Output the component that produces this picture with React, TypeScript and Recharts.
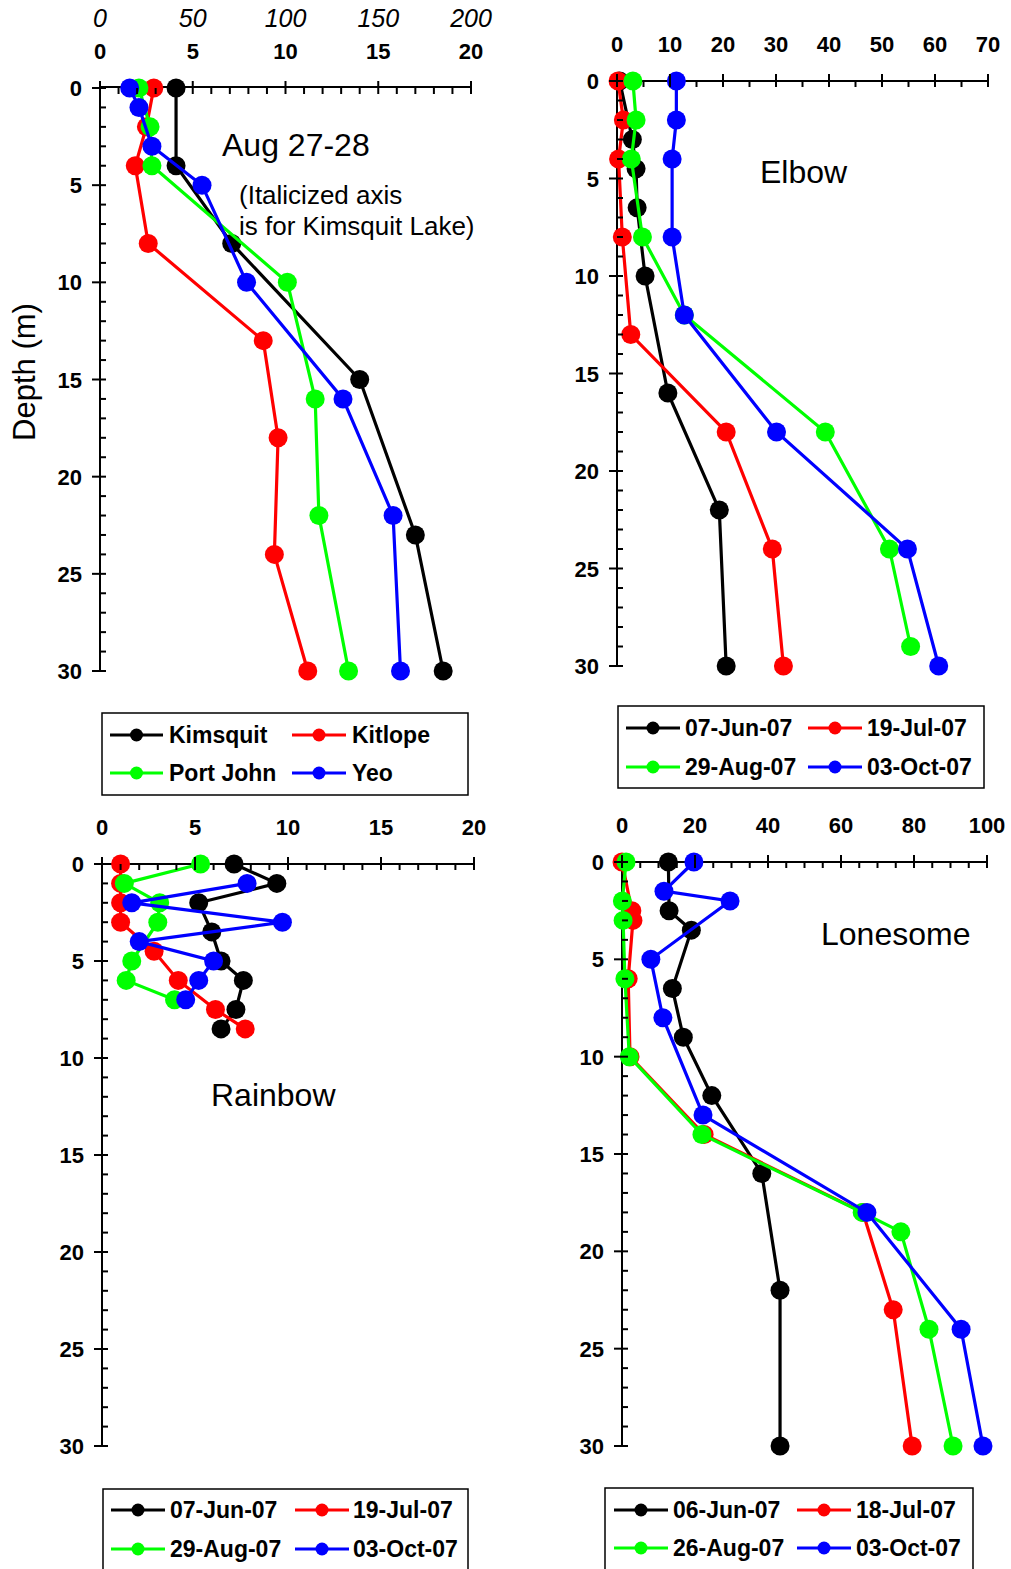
// Four lake depth profiles (Aug 27-28, Elbow, Rainbow, Lonesome). Depth runs
// down the y axis, the measured value along a top x axis. The first panel
// carries a second, italic x axis (0-200) used only by Kimsquit.

import { ScatterChart, Scatter, XAxis, YAxis } from "recharts";

const BLACK = "#000000";
const RED = "#ff0000";
const GREEN = "#00ff00";
const BLUE = "#0000ff";
const FONT = "'Liberation Sans', Arial, sans-serif";

// ---- tick labels ----
const DEPTH_MAJOR = [0, 5, 10, 15, 20, 25, 30];
const AUG_X_MAJOR = [0, 5, 10, 15, 20];
const KIMSQUIT_X_LABELS = [0, 50, 100, 150, 200];
const ELBOW_X_MAJOR = [0, 10, 20, 30, 40, 50, 60, 70];
const RAINBOW_X_MAJOR = [0, 5, 10, 15, 20];
const LONESOME_X_MAJOR = [0, 20, 40, 60, 80, 100];

// ---- Aug 27-28 (Kimsquit values on the italic axis) ----
const AUG_NAMES = ["Kimsquit", "Kitlope", "Port John", "Yeo"];
const kimsquitDepth = [0, 4, 8, 15, 23, 30];
const kimsquit = [41, 41, 71, 140, 170, 185];
const kitlopeDepth = [0, 2, 4, 8, 13, 18, 24, 30];
const kitlope = [2.9, 2.5, 1.9, 2.6, 8.8, 9.6, 9.4, 11.2];
const portJohnDepth = [0, 2, 4, 10, 16, 22, 30];
const portJohn = [2.1, 2.7, 2.8, 10.1, 11.6, 11.8, 13.4];
const yeoDepth = [0, 1, 3, 5, 10, 16, 22, 30];
const yeo = [1.6, 2.1, 2.8, 5.5, 7.9, 13.1, 15.8, 16.2];

// ---- Elbow ----
const ELBOW_NAMES = ["07-Jun-07", "19-Jul-07", "29-Aug-07", "03-Oct-07"];
const elbowJunDepth = [0, 3, 4.5, 6.5, 10, 16, 22, 30];
const elbowJun = [0.5, 2.9, 3.6, 3.8, 5.3, 9.6, 19.3, 20.6];
const elbowJulDepth = [0, 2, 4, 8, 13, 18, 24, 30];
const elbowJul = [0.2, 1.2, 0.3, 1.0, 2.6, 20.6, 29.3, 31.4];
const elbowAugDepth = [0, 2, 4, 8, 12, 18, 24, 29];
const elbowAug = [3.0, 3.6, 2.7, 4.8, 12.7, 39.3, 51.4, 55.4];
const elbowOctDepth = [0, 2, 4, 8, 12, 18, 24, 30];
const elbowOct = [11.2, 11.2, 10.4, 10.4, 12.7, 30.1, 54.8, 60.7];

// ---- Rainbow ----
const RAINBOW_NAMES = ["07-Jun-07", "19-Jul-07", "29-Aug-07", "03-Oct-07"];
const rainbowJunDepth = [0, 1, 2, 3.5, 5, 6, 7.5, 8.5];
const rainbowJun = [7.1, 9.4, 5.2, 5.9, 6.4, 7.6, 7.2, 6.4];
const rainbowJulDepth = [0, 1, 2, 3, 4.5, 6, 7.5, 8.5];
const rainbowJul = [1.0, 1.0, 1.0, 1.0, 2.8, 4.1, 6.1, 7.7];
const rainbowAugDepth = [0, 1, 2, 3, 5, 6, 7];
const rainbowAug = [5.3, 1.2, 3.1, 3.0, 1.6, 1.3, 3.9];
const rainbowOctDepth = [1, 2, 3, 4, 5, 6, 7];
const rainbowOct = [7.8, 1.6, 9.7, 2.0, 6.0, 5.2, 4.5];

// ---- Lonesome ----
const LONESOME_NAMES = ["06-Jun-07", "18-Jul-07", "26-Aug-07", "03-Oct-07"];
const lonesomeJunDepth = [0, 2.5, 3.5, 6.5, 9, 12, 16, 22, 30];
const lonesomeJun = [12.7, 12.9, 19, 13.8, 16.8, 24.6, 38.3, 43.3, 43.3];
const lonesomeJulDepth = [0, 2.5, 3, 6, 10, 14, 18, 23, 30];
const lonesomeJul = [0, 2.7, 3.0, 1.7, 2.2, 22.5, 66, 74.3, 79.5];
const lonesomeAugDepth = [0, 2, 3, 6, 10, 14, 18, 19, 24, 30];
const lonesomeAug = [1.1, 0.1, 0.3, 0.8, 2.0, 21.9, 65.8, 76.4, 84.1, 90.7];
const lonesomeOctDepth = [0, 1.5, 2, 5, 8, 13, 18, 24, 30];
const lonesomeOct = [19.7, 11.5, 29.6, 7.9, 11.2, 22.2, 67.1, 92.9, 98.9];

const COLORS = [BLACK, RED, GREEN, BLUE];

type Series = { depths: number[]; vals: number[]; color: string; alt?: boolean };
type Margin = { top: number; right: number; bottom: number; left: number };

const toPoints = (depths: number[], vals: number[]) =>
  depths.map((d, i) => ({ x: vals[i], y: d }));

const range = (max: number, step: number) => {
  const out: number[] = [];
  for (let v = 0; v <= max + 1e-9; v += step) out.push(v);
  return out;
};

const DEPTH_TICKS = range(30, 1);

// plotTop / plotLeft are in the chart's own svg coordinates
function makeXTick(plotTop: number, labelY: number, majors: number[]) {
  return (p: any) => {
    const v = p.payload.value;
    const major = majors.includes(v);
    return (
      <g>
        <line x1={p.x} x2={p.x} y1={major ? plotTop - 7 : plotTop} y2={plotTop + 6} stroke={BLACK} strokeWidth={2} />
        {major && (
          <text x={p.x} y={labelY} textAnchor="middle" fontFamily={FONT} fontWeight="bold" fontSize={22} fill={BLACK}>
            {v}
          </text>
        )}
      </g>
    );
  };
}

function makeItalicTick(labelY: number) {
  return (p: any) => (
    <text x={p.x} y={labelY} textAnchor="middle" fontFamily={FONT} fontStyle="italic" fontSize={25} fill={BLACK}>
      {p.payload.value}
    </text>
  );
}

function makeYTick(plotLeft: number) {
  return (p: any) => {
    const v = p.payload.value;
    const major = DEPTH_MAJOR.includes(v);
    return (
      <g>
        <line x1={major ? plotLeft - 8 : plotLeft} x2={plotLeft + 6} y1={p.y} y2={p.y} stroke={BLACK} strokeWidth={2} />
        {major && (
          <text x={plotLeft - 18} y={p.y + 8} textAnchor="end" fontFamily={FONT} fontWeight="bold" fontSize={22} fill={BLACK}>
            {v}
          </text>
        )}
      </g>
    );
  };
}

function Panel({
  left, top, width, height, plot, xMax, xStep, xMajor, labelY, series, italicY,
}: {
  left: number; top: number; width: number; height: number; plot: Margin;
  xMax: number; xStep: number; xMajor: number[]; labelY: number; series: Series[]; italicY?: number;
}) {
  // axes get a 1px box so Recharts still draws them
  const topAxes = italicY !== undefined ? 2 : 1;
  const margin = { top: plot.top - topAxes, left: plot.left - 1, right: plot.right, bottom: plot.bottom };
  return (
    <div style={{ position: "absolute", left, top }}>
      <ScatterChart width={width} height={height} margin={margin}>
        <XAxis
          xAxisId="main" type="number" dataKey="x" orientation="top"
          domain={[0, xMax]} ticks={range(xMax, xStep)} interval={0} height={1}
          tickLine={false} axisLine={{ stroke: BLACK, strokeWidth: 2 }}
          tick={makeXTick(plot.top, labelY, xMajor)}
        />
        {italicY !== undefined && (
          <XAxis
            xAxisId="alt" type="number" dataKey="x" orientation="top"
            domain={[0, 200]} ticks={KIMSQUIT_X_LABELS} interval={0} height={1}
            tickLine={false} axisLine={false} tick={makeItalicTick(italicY)}
          />
        )}
        <YAxis
          yAxisId="depth" type="number" dataKey="y" reversed domain={[0, 30]}
          ticks={DEPTH_TICKS} interval={0} width={1}
          tickLine={false} axisLine={{ stroke: BLACK, strokeWidth: 2 }}
          tick={makeYTick(plot.left)}
        />
        {series.map((s, i) => (
          <Scatter
            key={i}
            data={toPoints(s.depths, s.vals)}
            xAxisId={s.alt ? "alt" : "main"}
            yAxisId="depth"
            fill={s.color}
            strokeWidth={3.2}
            line={{ stroke: s.color, strokeWidth: 3.2 }}
            shape={(p: any) => <circle cx={p.cx} cy={p.cy} r={9.5} fill={s.color} />}
            isAnimationActive={false}
          />
        ))}
      </ScatterChart>
    </div>
  );
}

function LegendBox({
  x, y, w, h, names, rows, cols,
}: {
  x: number; y: number; w: number; h: number; names: string[];
  rows: number[]; cols: { x1: number; x2: number; tx: number }[];
}) {
  return (
    <g>
      <rect x={x} y={y} width={w} height={h} fill="#fff" stroke={BLACK} strokeWidth={1.5} />
      {names.map((n, i) => {
        const c = cols[i % 2];
        const ry = rows[Math.floor(i / 2)];
        const color = COLORS[i];
        return (
          <g key={n}>
            <line x1={c.x1} x2={c.x2} y1={ry} y2={ry} stroke={color} strokeWidth={3} />
            <circle cx={(c.x1 + c.x2) / 2} cy={ry} r={6.5} fill={color} />
            <text x={c.tx} y={ry + 8} fontFamily={FONT} fontWeight="bold" fontSize={23} fill={BLACK}>
              {n}
            </text>
          </g>
        );
      })}
    </g>
  );
}

export default function App() {
  const augSeries: Series[] = [
    { depths: kimsquitDepth, vals: kimsquit, color: BLACK, alt: true },
    { depths: kitlopeDepth, vals: kitlope, color: RED },
    { depths: portJohnDepth, vals: portJohn, color: GREEN },
    { depths: yeoDepth, vals: yeo, color: BLUE },
  ];
  const elbowSeries: Series[] = [
    { depths: elbowJunDepth, vals: elbowJun, color: BLACK },
    { depths: elbowJulDepth, vals: elbowJul, color: RED },
    { depths: elbowAugDepth, vals: elbowAug, color: GREEN },
    { depths: elbowOctDepth, vals: elbowOct, color: BLUE },
  ];
  const rainbowSeries: Series[] = [
    { depths: rainbowJunDepth, vals: rainbowJun, color: BLACK },
    { depths: rainbowJulDepth, vals: rainbowJul, color: RED },
    { depths: rainbowAugDepth, vals: rainbowAug, color: GREEN },
    { depths: rainbowOctDepth, vals: rainbowOct, color: BLUE },
  ];
  const lonesomeSeries: Series[] = [
    { depths: lonesomeJunDepth, vals: lonesomeJun, color: BLACK },
    { depths: lonesomeJulDepth, vals: lonesomeJul, color: RED },
    { depths: lonesomeAugDepth, vals: lonesomeAug, color: GREEN },
    { depths: lonesomeOctDepth, vals: lonesomeOct, color: BLUE },
  ];

  return (
    <div style={{ position: "absolute", left: 0, top: 0, width: 1011, height: 1569, background: "#fff", overflow: "hidden" }}>
      <Panel
        left={0} top={0} width={505} height={700}
        plot={{ top: 88, left: 100, right: 34, bottom: 29 }}
        xMax={20} xStep={1} xMajor={AUG_X_MAJOR} labelY={59} italicY={27}
        series={augSeries}
      />
      <Panel
        left={505} top={0} width={506} height={700}
        plot={{ top: 81, left: 112, right: 23, bottom: 34 }}
        xMax={70} xStep={5} xMajor={ELBOW_X_MAJOR} labelY={52}
        series={elbowSeries}
      />
      <Panel
        left={0} top={780} width={505} height={700}
        plot={{ top: 84, left: 102, right: 31, bottom: 34 }}
        xMax={20} xStep={1} xMajor={RAINBOW_X_MAJOR} labelY={55}
        series={rainbowSeries}
      />
      <Panel
        left={505} top={780} width={506} height={700}
        plot={{ top: 82, left: 117, right: 24, bottom: 34 }}
        xMax={100} xStep={5} xMajor={LONESOME_X_MAJOR} labelY={53}
        series={lonesomeSeries}
      />
      <svg width={1011} height={1569} style={{ position: "absolute", left: 0, top: 0, pointerEvents: "none" }}>
        <text x={35} y={372} transform="rotate(-90 35 372)" textAnchor="middle" fontFamily={FONT} fontSize={31} fill={BLACK}>
          Depth (m)
        </text>
        <text x={222} y={156} fontFamily={FONT} fontSize={32} fill={BLACK}>Aug 27-28</text>
        <text x={239} y={204} fontFamily={FONT} fontSize={26} fill={BLACK}>(Italicized axis</text>
        <text x={239} y={235} fontFamily={FONT} fontSize={26} fill={BLACK}>is for Kimsquit Lake)</text>
        <text x={760} y={183} fontFamily={FONT} fontSize={32} fill={BLACK}>Elbow</text>
        <text x={211} y={1106} fontFamily={FONT} fontSize={32} fill={BLACK}>Rainbow</text>
        <text x={821} y={945} fontFamily={FONT} fontSize={32} fill={BLACK}>Lonesome</text>

        <LegendBox
          x={102} y={713} w={366} h={82} names={AUG_NAMES} rows={[735, 773]}
          cols={[{ x1: 110, x2: 163, tx: 169 }, { x1: 292, x2: 346, tx: 352 }]}
        />
        <LegendBox
          x={618} y={706} w={366} h={82} names={ELBOW_NAMES} rows={[728, 767]}
          cols={[{ x1: 626, x2: 680, tx: 685 }, { x1: 808, x2: 862, tx: 867 }]}
        />
        <LegendBox
          x={103} y={1489} w={365} h={90} names={RAINBOW_NAMES} rows={[1510, 1549]}
          cols={[{ x1: 111, x2: 165, tx: 170 }, { x1: 295, x2: 349, tx: 353 }]}
        />
        <LegendBox
          x={605} y={1488} w={368} h={90} names={LONESOME_NAMES} rows={[1510, 1548]}
          cols={[{ x1: 614, x2: 668, tx: 673 }, { x1: 797, x2: 851, tx: 856 }]}
        />
      </svg>
    </div>
  );
}
